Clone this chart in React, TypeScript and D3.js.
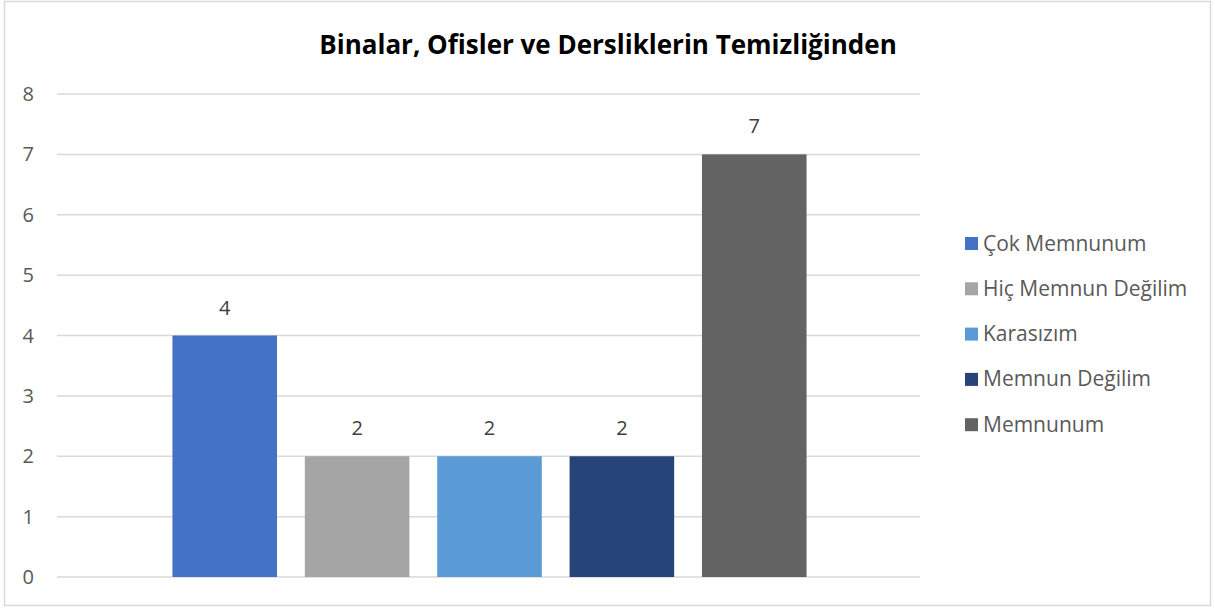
import { useEffect, useRef } from 'react';
import * as d3 from 'd3';

const categories = ['Çok Memnunum', 'Hiç Memnun Değilim', 'Karasızım', 'Memnun Değilim', 'Memnunum'];
const values = [4, 2, 2, 2, 7];
const colors = ['#4472C4', '#A5A5A5', '#5B9BD5', '#264478', '#636363'];
const yTicks = [0, 1, 2, 3, 4, 5, 6, 7, 8];
const title = 'Binalar, Ofisler ve Dersliklerin Temizliğinden';

export default function App() {
  const svgRef = useRef<SVGSVGElement>(null);

  useEffect(() => {
    if (!svgRef.current) return;
    const W = 1215;
    const H = 608;
    const M = { top: 94, right: 295, bottom: 31, left: 57 };
    const font = '"Open Sans", sans-serif';

    const svg = d3.select(svgRef.current).attr('width', W).attr('height', H);
    svg.selectAll('*').remove();

    svg.append('rect').attr('x', 4.5).attr('y', 1.5).attr('width', W - 9).attr('height', H - 4)
      .style('fill', '#fff').style('stroke', '#d9d9d9').style('stroke-width', 1.5);

    const x = d3.scaleBand<string>().domain(categories)
      .range([M.left + 2, W - M.right]).paddingInner(0.21).paddingOuter(0.857);
    const y = d3.scaleLinear().domain([0, 8]).range([H - M.bottom, M.top]);

    // Grid
    svg.append('g').selectAll('line').data(yTicks).join('line')
      .attr('x1', M.left).attr('x2', W - M.right)
      .attr('y1', d => y(d)).attr('y2', d => y(d))
      .style('stroke', '#d9d9d9').style('stroke-width', 1.5);

    // Y labels
    svg.append('g').selectAll('text').data(yTicks).join('text')
      .attr('x', 34).attr('y', d => y(d) + 7)
      .attr('text-anchor', 'end')
      .style('fill', '#595959').style('font-family', font).style('font-size', '20px')
      .text(d => d);

    // Bars
    svg.append('g').selectAll('rect').data(categories).join('rect')
      .attr('x', d => x(d)!).attr('width', x.bandwidth())
      .attr('y', (d, i) => y(values[i])).attr('height', (d, i) => y(0) - y(values[i]))
      .style('fill', (d, i) => colors[i]);

    // Data labels
    svg.append('g').selectAll('text').data(categories).join('text')
      .attr('x', d => x(d)! + x.bandwidth() / 2).attr('y', (d, i) => y(values[i]) - 21)
      .attr('text-anchor', 'middle')
      .style('fill', '#404040').style('font-family', font).style('font-size', '20px')
      .text((d, i) => values[i]);

    // Title
    svg.append('text').attr('x', 608).attr('y', 54).attr('text-anchor', 'middle')
      .style('fill', '#000').style('font-family', font).style('font-size', '26px').style('font-weight', 'bold')
      .text(title);

    // Legend
    const lg = svg.append('g').selectAll('g').data(categories).join('g')
      .attr('transform', (d, i) => `translate(965,${243 + i * 45.3})`);
    lg.append('rect').attr('x', 0).attr('y', -6).attr('width', 13).attr('height', 13)
      .style('fill', (d, i) => colors[i]);
    lg.append('text').attr('x', 18).attr('y', 7.5)
      .style('fill', '#595959').style('font-family', font).style('font-size', '21px')
      .text(d => d);
  }, []);

  return (
    <div>
      <svg ref={svgRef} style={{ position: 'fixed', top: 0, left: 0, display: 'block' }} />
    </div>
  );
}
